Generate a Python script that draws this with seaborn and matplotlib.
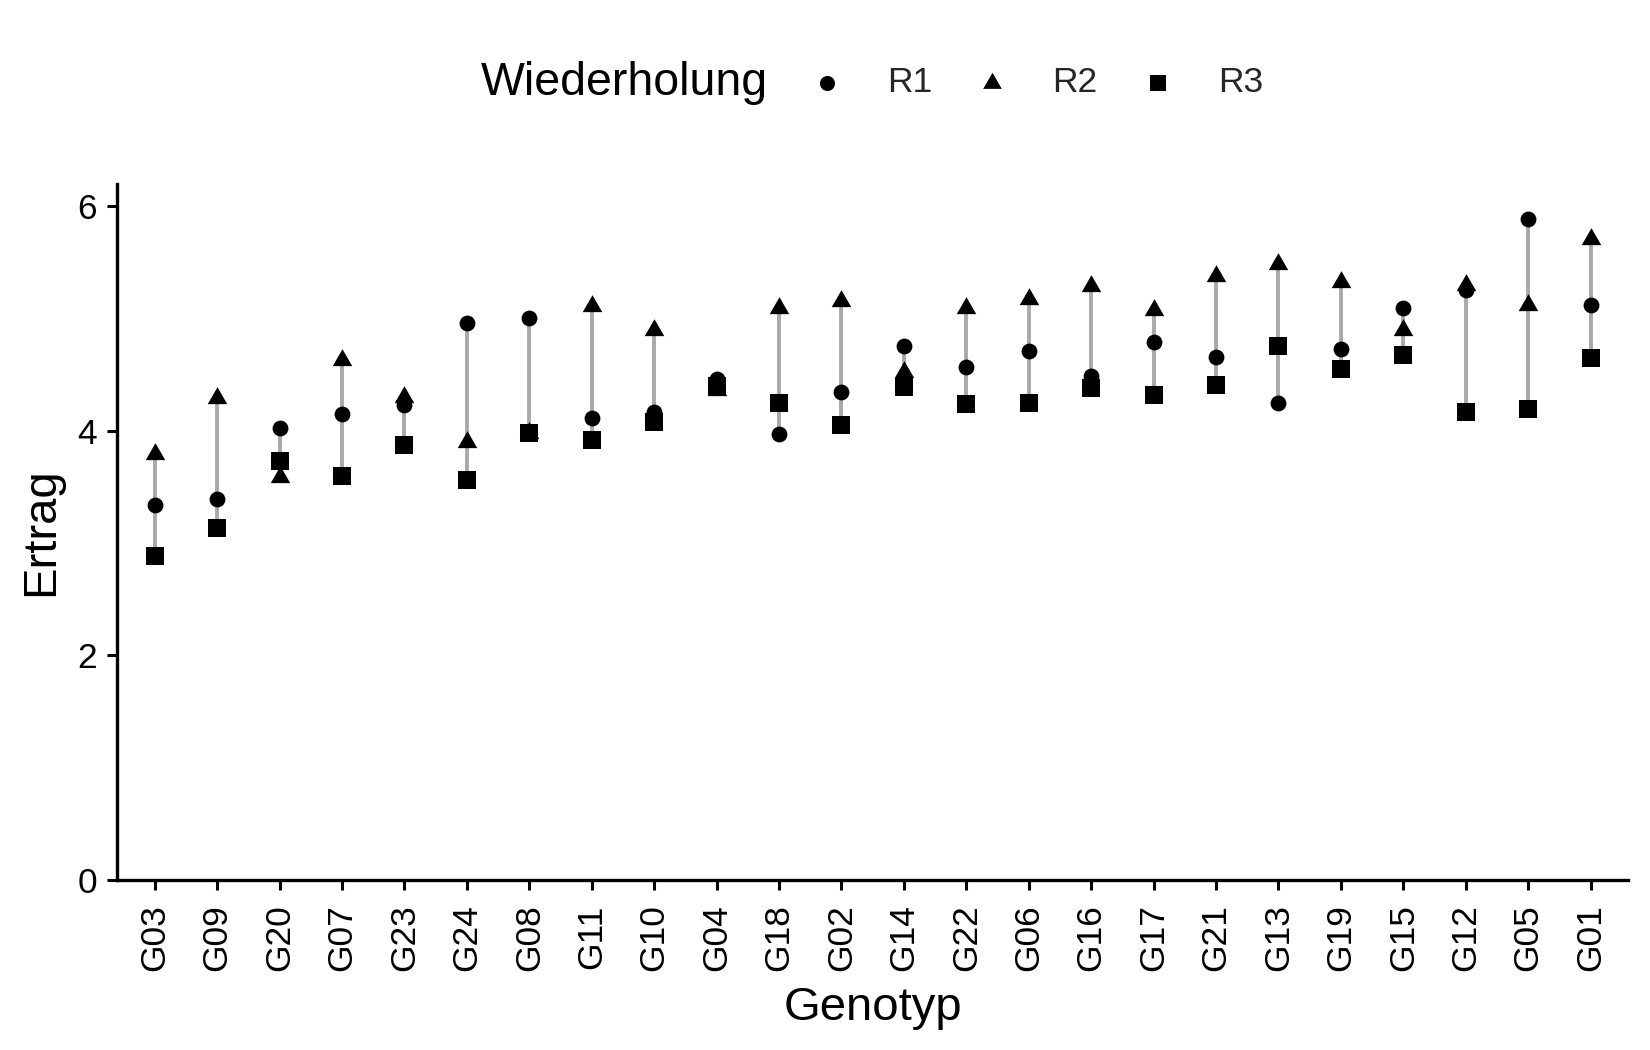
import matplotlib
matplotlib.use('Agg')
import matplotlib.pyplot as plt
import seaborn as sns
import pandas as pd

# Genotypen sortiert nach mittlerem Ertrag
genotypes = ['G03', 'G09', 'G20', 'G07', 'G23', 'G24', 'G08', 'G11', 'G10', 'G04', 'G18', 'G02',
             'G14', 'G22', 'G06', 'G16', 'G17', 'G21', 'G13', 'G19', 'G15', 'G12', 'G05', 'G01']
r1 = [3.34, 3.39, 4.02, 4.15, 4.23, 4.96, 5.00, 4.11, 4.17, 4.46, 3.97, 4.34,
      4.75, 4.57, 4.71, 4.49, 4.79, 4.66, 4.25, 4.73, 5.09, 5.25, 5.88, 5.12]
r2 = [3.79, 4.29, 3.59, 4.63, 4.30, 3.90, 3.98, 5.11, 4.90, 4.36, 5.09, 5.15,
      4.52, 5.09, 5.17, 5.29, 5.07, 5.38, 5.48, 5.32, 4.90, 5.30, 5.12, 5.71]
r3 = [2.88, 3.13, 3.73, 3.60, 3.87, 3.56, 3.98, 3.92, 4.08, 4.40, 4.25, 4.05,
      4.39, 4.24, 4.25, 4.38, 4.32, 4.41, 4.75, 4.55, 4.67, 4.17, 4.19, 4.65]
reps = ['R1', 'R2', 'R3']
y_ticks = [0, 2, 4, 6]

df = pd.DataFrame({'Genotyp': genotypes * 3,
                   'Ertrag': r1 + r2 + r3,
                   'Wiederholung': [r for r in reps for _ in genotypes]})
rng = df.groupby('Genotyp', sort=False)['Ertrag'].agg(['min', 'max']).reindex(genotypes)

sns.set_theme(style='ticks')
plt.rcParams['font.family'] = ['Liberation Sans', 'DejaVu Sans']

# Dreieck mit Schwerpunkt im Datenpunkt (wie in R)
tri = [(0, 1), (-0.866, -0.5), (0.866, -0.5), (0, 1)]
marker_map = {'R1': 'o', 'R2': tri, 'R3': 's'}
size_map = {'R1': 130, 'R2': 265, 'R3': 155}

fig = plt.figure(figsize=(16.5, 10.5), dpi=100)
ax = fig.add_axes([0.0711, 0.1619, 0.9156, 0.6629])

ax.vlines(x=genotypes, ymin=rng['min'].values, ymax=rng['max'].values,
          color='#a9a9a9', linewidth=2.8, zorder=1)
for rep in reps:
    sns.scatterplot(data=df[df['Wiederholung'] == rep], x='Genotyp', y='Ertrag',
                    marker=marker_map[rep], s=size_map[rep], color='black',
                    linewidth=0, label=rep, legend=False, ax=ax, zorder=2)

ax.set_xlim(-0.6, len(genotypes) - 0.4)
ax.set_ylim(0, 6.196)
ax.set_yticks(y_ticks)
ax.set_yticklabels([str(t) for t in y_ticks])
sns.despine(ax=ax)
for sp in ['left', 'bottom']:
    ax.spines[sp].set_linewidth(2.4)
    ax.spines[sp].set_color('black')
ax.tick_params(axis='both', length=7.5, width=2.2, color='black', labelsize=25.5, labelcolor='black')
ax.tick_params(axis='y', pad=7)
ax.tick_params(axis='x', pad=10)
plt.setp(ax.get_xticklabels(), rotation=90, va='top', ha='center')

ax.set_xlabel('Genotyp', fontsize=34, color='black')
ax.set_ylabel('Ertrag', fontsize=34, color='black')
ax.xaxis.set_label_coords(0.5, -0.153)
ax.yaxis.set_label_coords(-0.036, 0.5)

handles, labels = ax.get_legend_handles_labels()
fig.text(481 / 1650, 1 - 83 / 1050, 'Wiederholung', fontsize=33.5, ha='left', va='center', color='black')
fig.legend(handles, labels, loc='center left', bbox_to_anchor=(809 / 1650, 1 - 83 / 1050),
           ncol=3, frameon=False, fontsize=25.5, handlelength=1.0, handletextpad=1.2,
           columnspacing=1.2, borderpad=0, borderaxespad=0, markerscale=0.95)

fig.savefig('out.png', dpi=100, facecolor='white')
plt.close(fig)
